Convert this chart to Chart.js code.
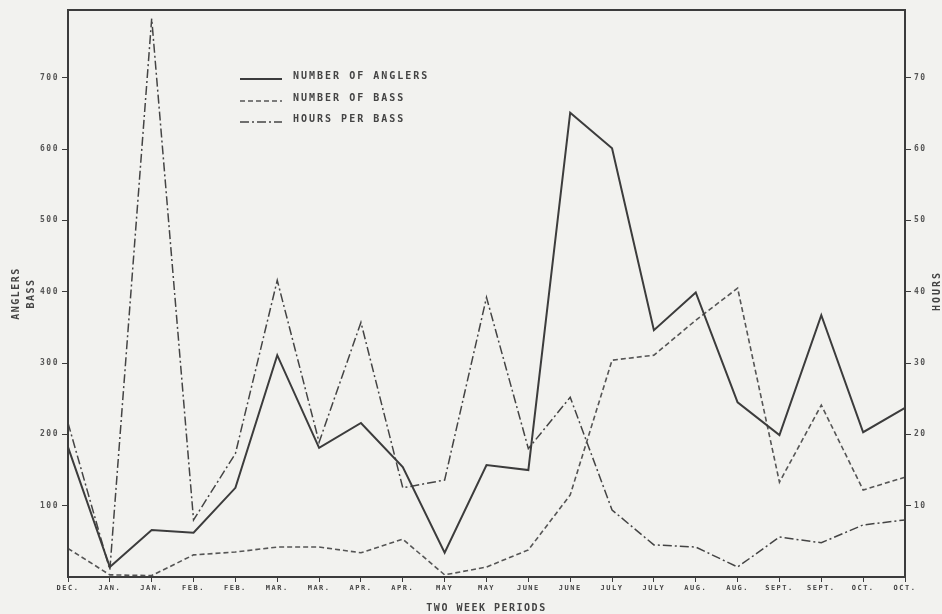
<!DOCTYPE html>
<html>
<head>
<meta charset="utf-8">
<script src="https://cdn.jsdelivr.net/npm/chart.js@4.4.0/dist/chart.umd.min.js"></script>
<style>
html,body{margin:0;padding:0;background:#f2f2ef;}
#wrap{width:942px;height:614px;position:relative;}
</style>
</head>
<body>
<div id="wrap"><canvas id="myChart"></canvas></div>
<script>
var periods = ['DEC.', 'JAN.', 'JAN.', 'FEB.', 'FEB.', 'MAR.', 'MAR.', 'APR.', 'APR.', 'MAY', 'MAY',
  'JUNE', 'JUNE', 'JULY', 'JULY', 'AUG.', 'AUG.', 'SEPT.', 'SEPT.', 'OCT.', 'OCT.'];
var anglers = [182, 14, 66, 62, 125, 311, 181, 216, 154, 34, 157, 150, 651, 601, 346, 399, 245, 199, 367, 203, 237];
var bass = [40, 3, 2, 31, 35, 42, 42, 34, 53, 3, 14, 38, 115, 304, 311, 360, 405, 133, 241, 122, 140];
var hoursPerBass = [21.6, 1.0, 78.3, 8.0, 17.3, 41.6, 18.9, 35.7, 12.5, 13.6, 39.2, 18.0, 25.2, 9.4, 4.5, 4.2, 1.4, 5.6, 4.8, 7.3, 8.0];
var seriesNames = ['NUMBER OF ANGLERS', 'NUMBER OF BASS', 'HOURS PER BASS'];
var countTicks = [100, 200, 300, 400, 500, 600, 700];
var hourTicks = [10, 20, 30, 40, 50, 60, 70];

var ink = '#3c3c3c';
var mono = "'DejaVu Sans Mono', monospace";

// letter spaced stencil look + frame + hand placed legend
var paperPlugin = {
  id: 'paper',
  beforeDraw: function(chart){
    chart.ctx.letterSpacing = '1.5px';
  },
  afterDraw: function(chart){
    var ctx = chart.ctx, a = chart.chartArea;
    ctx.save();
    ctx.strokeStyle = ink;
    ctx.lineWidth = 2;
    ctx.strokeRect(a.left, a.top, a.right - a.left, a.bottom - a.top);

    ctx.letterSpacing = '2px';
    ctx.font = 'bold 10px ' + mono;
    ctx.fillStyle = '#444';
    ctx.textBaseline = 'middle';
    var rows = [66, 88, 109];
    chart.data.datasets.forEach(function(ds, i){
      var y = a.top + rows[i];
      ctx.beginPath();
      ctx.setLineDash(ds.borderDash || []);
      ctx.lineWidth = ds.borderWidth;
      ctx.strokeStyle = ds.borderColor;
      ctx.moveTo(a.left + 172, y + 3);
      ctx.lineTo(a.left + 214, y + 3);
      ctx.stroke();
      ctx.fillText(ds.label, a.left + 225, y);
    });

    // right axis title reads bottom to top like the left one
    ctx.setLineDash([]);
    ctx.font = 'bold 10px ' + mono;
    ctx.textAlign = 'center';
    ctx.translate(937, 291);
    ctx.rotate(-Math.PI / 2);
    ctx.fillText('HOURS', 0, 0);
    ctx.restore();
  }
};

var ctx = document.getElementById('myChart');

var myChart = new Chart(ctx, {
  type: 'line',
  data: {
    labels: periods,
    datasets: [{
      label: seriesNames[0],
      data: anglers,
      yAxisID: 'y',
      borderColor: ink,
      borderWidth: 2,
      pointRadius: 0,
      tension: 0
    }, {
      label: seriesNames[1],
      data: bass,
      yAxisID: 'y',
      borderColor: '#555',
      borderWidth: 1.6,
      borderDash: [5, 3],
      pointRadius: 0,
      tension: 0
    }, {
      label: seriesNames[2],
      data: hoursPerBass,
      yAxisID: 'y1',
      borderColor: '#444',
      borderWidth: 1.5,
      borderDash: [9, 3, 2, 3],
      pointRadius: 0,
      tension: 0
    }]
  },
  options: {
    responsive: true,
    maintainAspectRatio: false,
    animation: false,
    layout: { padding: { top: 10, left: 0, right: 0, bottom: 0 } },
    plugins: {
      legend: { display: false },
      tooltip: { enabled: false }
    },
    scales: {
      x: {
        offset: false,
        grid: { drawOnChartArea: false, drawTicks: true, tickLength: 5, color: ink },
        border: { display: true, color: ink, width: 2 },
        ticks: {
          color: '#444', autoSkip: false, maxRotation: 0, padding: 2,
          font: { family: mono, size: 7, weight: 'bold' }
        },
        title: {
          display: true, text: 'TWO WEEK PERIODS', color: '#444', padding: { top: 3, bottom: 0 },
          font: { family: mono, size: 10, weight: 'bold' }
        },
        afterFit: function(s){ s.height = 37; }
      },
      y: {
        position: 'left',
        min: 0, max: 795,
        afterBuildTicks: function(s){
          s.ticks = countTicks.map(function(v){ return { value: v }; });
        },
        grid: { drawOnChartArea: false, drawTicks: true, tickLength: 6, color: ink },
        border: { display: true, color: ink, width: 2 },
        ticks: {
          color: '#555', padding: 3,
          font: { family: mono, size: 8, weight: 'bold' }
        },
        title: {
          display: true, text: ['ANGLERS', 'BASS'], color: '#444', padding: { top: 9, bottom: 2 },
          font: { family: mono, size: 10, weight: 'bold', lineHeight: 1.5 }
        },
        afterFit: function(s){ s.width = 68; }
      },
      y1: {
        position: 'right',
        min: 0, max: 79.5,
        afterBuildTicks: function(s){
          s.ticks = hourTicks.map(function(v){ return { value: v }; });
        },
        grid: { drawOnChartArea: false, drawTicks: true, tickLength: 6, color: ink },
        border: { display: true, color: ink, width: 2 },
        ticks: {
          color: '#555', padding: 3,
          font: { family: mono, size: 8, weight: 'bold' }
        },
        title: { display: false },
        afterFit: function(s){ s.width = 37; }
      }
    }
  },
  plugins: [paperPlugin]
});
</script>
</body>
</html>
